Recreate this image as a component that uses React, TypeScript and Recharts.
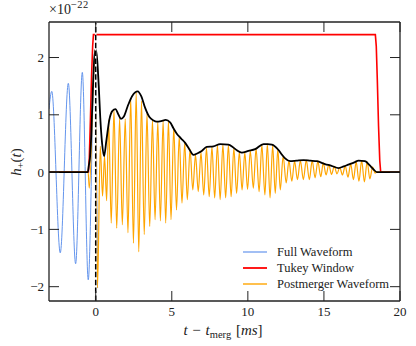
import { LineChart, Line, XAxis, YAxis, Legend, ReferenceLine } from "recharts";

const W = 416;
const H = 346;
const MARGIN = { top: 22, right: 16, left: 0, bottom: 0 };
const Y_AXIS_W = 49;
const X_AXIS_H = 45;
const PLOT_LEFT = MARGIN.left + Y_AXIS_W;
const PLOT_RIGHT = W - MARGIN.right;
const PLOT_TOP = MARGIN.top;
const PLOT_BOTTOM = H - MARGIN.bottom - X_AXIS_H;
const TICK_LEN = 10;
const SERIF = "'Liberation Serif', 'DejaVu Serif', serif";
const INK = "#222";

const X_DOMAIN: [number, number] = [-3.07, 20];
const Y_DOMAIN: [number, number] = [-2.25, 2.62];
const xTicks = [0, 5, 10, 15, 20];
const yTicks = [-2, -1, 0, 1, 2];

// [t - t_merg (ms), h+ (1e-22)]
const fullWaveform: [number, number][] = [
  [-3.07, 1.1], [-2.89, 1.41], [-2.33, -1.41], [-1.8, 1.55], [-1.32, -1.6],
  [-0.88, 1.74], [-0.49, -1.88], [-0.05, 2.13], [0.12, -2.02],
];

const tukeyWindow: [number, number][] = [
  [-3.07, 0], [-0.48, 0], [-0.42, 0.25], [-0.35, 0.9], [-0.27, 1.7], [-0.2, 2.2],
  [-0.15, 2.4], [18.38, 2.4], [18.44, 2.2], [18.51, 1.6], [18.59, 0.8],
  [18.67, 0.2], [18.73, 0], [20, 0],
];

const postmerger: [number, number][] = [
  [-3.07, 0], [-0.5, 0], [-0.42, -0.28], [-0.05, 2.13], [0.12, -2.02],
  [0.3, 0.45], [0.45, -0.42], [0.58, 0.28], [0.72, -0.5], [0.85, 0.91],
  [1.02, -0.89], [1.2, 1.09], [1.38, -0.98], [1.57, 0.94], [1.75, -0.92],
  [1.94, 0.93], [2.12, -1.06], [2.3, 1.29], [2.48, -1.24], [2.66, 1.39],
  [2.83, -1.39], [3.01, 1.24], [3.19, -1.09], [3.37, 1.02], [3.55, -0.95],
  [3.73, 0.91], [3.9, -0.83], [4.08, 0.88], [4.25, -0.85], [4.43, 0.89],
  [4.6, -0.89], [4.78, 0.89], [4.95, -0.83], [5.13, 0.78], [5.31, -0.66],
  [5.49, 0.62], [5.67, -0.54], [5.85, 0.51], [6.02, -0.48], [6.2, 0.4],
  [6.38, -0.31], [6.56, 0.3], [6.74, -0.34], [6.92, 0.34], [7.1, -0.4],
  [7.28, 0.42], [7.46, -0.43], [7.64, 0.44], [7.82, -0.45], [8.0, 0.47],
  [8.18, -0.48], [8.36, 0.48], [8.54, -0.45], [8.72, 0.47], [8.9, -0.43],
  [9.08, 0.42], [9.26, -0.37], [9.44, 0.35], [9.62, -0.31], [9.8, 0.34],
  [9.98, -0.3], [10.16, 0.37], [10.36, -0.28], [10.54, 0.41], [10.74, -0.34],
  [10.92, 0.47], [11.12, -0.4], [11.28, 0.49], [11.46, -0.45], [11.63, 0.47],
  [11.8, -0.37], [11.97, 0.4], [12.13, -0.31], [12.32, 0.28], [12.52, -0.19],
  [12.7, 0.2], [12.89, -0.16], [13.07, 0.19], [13.26, -0.13], [13.45, 0.2],
  [13.65, -0.13], [13.84, 0.21], [14.04, -0.13], [14.23, 0.2], [14.42, -0.1],
  [14.6, 0.19], [14.79, -0.08], [14.96, 0.16], [15.14, -0.05], [15.32, 0.13],
  [15.5, -0.04], [15.68, 0.1], [15.86, -0.03], [16.04, 0.08], [16.22, -0.05],
  [16.4, 0.11], [16.58, -0.09], [16.76, 0.14], [16.94, -0.13], [17.12, 0.18],
  [17.3, -0.16], [17.48, 0.2], [17.66, -0.17], [17.84, 0.18], [18.02, -0.12],
  [18.2, 0.09], [18.36, -0.02], [18.48, 0], [20, 0],
];

const envelope: [number, number][] = [
  [-3.07, 0], [-0.52, 0], [-0.45, 0.12], [-0.37, 0.27], [-0.3, 0.6], [-0.2, 1.35],
  [-0.1, 1.95], [0, 2.15], [0.1, 1.95], [0.2, 1.5], [0.3, 0.95], [0.42, 0.5],
  [0.55, 0.28], [0.7, 0.55], [0.9, 0.92], [1.1, 1.07], [1.3, 1.1], [1.5, 1.0],
  [1.66, 0.93], [1.85, 0.97], [2.1, 1.15], [2.4, 1.33], [2.76, 1.41], [3.0, 1.32],
  [3.25, 1.12], [3.53, 0.96], [3.8, 0.9], [4.0, 0.88], [4.3, 0.89], [4.6, 0.91],
  [4.89, 0.87], [5.1, 0.77], [5.33, 0.67], [5.6, 0.59], [5.88, 0.51], [6.15, 0.4],
  [6.42, 0.3], [6.7, 0.33], [6.97, 0.37], [7.3, 0.44], [7.74, 0.45], [8.18, 0.49],
  [8.72, 0.48], [9.0, 0.44], [9.28, 0.38], [9.6, 0.34], [10.04, 0.37], [10.48, 0.4],
  [11.03, 0.49], [11.3, 0.49], [11.58, 0.48], [12.0, 0.39], [12.25, 0.3],
  [12.45, 0.24], [12.78, 0.19], [13.2, 0.2], [13.66, 0.21], [14.1, 0.2],
  [14.54, 0.19], [15.07, 0.14], [15.5, 0.11], [15.96, 0.07], [16.3, 0.1],
  [16.6, 0.13], [17.0, 0.17], [17.27, 0.2], [17.7, 0.19], [18.0, 0.12],
  [18.25, 0.05], [18.48, 0], [20, 0],
];

const mergerLine: [number, number][] = [[0, Y_DOMAIN[0]], [0, Y_DOMAIN[1]]];

const legendOrder = ["Full Waveform", "Tukey Window", "Postmerger Waveform"];

const toPoints = (arr: [number, number][]) => arr.map(([x, y]) => ({ x, y }));

const fmtTick = (v: number) => (v < 0 ? `\u2212${Math.abs(v)}` : `${v}`);

function XTick({ x, payload }: any) {
  return (
    <g>
      <line x1={x} x2={x} y1={PLOT_BOTTOM} y2={PLOT_BOTTOM - TICK_LEN} stroke={INK} strokeWidth={1} />
      <line x1={x} x2={x} y1={PLOT_TOP} y2={PLOT_TOP + TICK_LEN} stroke={INK} strokeWidth={1} />
      <text x={x} y={PLOT_BOTTOM + 15} textAnchor="middle" fontFamily={SERIF} fontSize={13} fill={INK}>
        {fmtTick(payload.value)}
      </text>
    </g>
  );
}

function YTick({ y, payload }: any) {
  return (
    <g>
      <line x1={PLOT_LEFT} x2={PLOT_LEFT + TICK_LEN} y1={y} y2={y} stroke={INK} strokeWidth={1} />
      <line x1={PLOT_RIGHT - TICK_LEN} x2={PLOT_RIGHT} y1={y} y2={y} stroke={INK} strokeWidth={1} />
      <text x={PLOT_LEFT - 5} y={y + 4.5} textAnchor="end" fontFamily={SERIF} fontSize={13} fill={INK}>
        {fmtTick(payload.value)}
      </text>
    </g>
  );
}

const legendWidths: Record<string, number> = {
  "Full Waveform": 1.2,
  "Tukey Window": 1.8,
  "Postmerger Waveform": 1.4,
};

function LegendBox({ payload }: any) {
  const items = legendOrder
    .map((name) => (payload || []).find((p: any) => p.value === name))
    .filter(Boolean);
  return (
    <div style={{ fontFamily: SERIF, fontSize: 12.5, color: INK }}>
      {items.map((p: any) => (
        <div key={p.value} style={{ display: "flex", alignItems: "center", height: 16, whiteSpace: "nowrap" }}>
          <svg width={34} height={10} style={{ flex: "none" }}>
            <line x1={0} y1={5} x2={24} y2={5} stroke={p.color} strokeWidth={legendWidths[p.value]} />
          </svg>
          <span>{p.value}</span>
        </div>
      ))}
    </div>
  );
}

export default function App() {
  return (
    <div style={{ position: "relative", width: W, height: H, background: "#fff" }}>
      <style>{"body{margin:0}"}</style>
      <LineChart width={W} height={H} margin={MARGIN}>
        <XAxis
          dataKey="x"
          type="number"
          domain={X_DOMAIN}
          allowDataOverflow
          ticks={xTicks}
          height={X_AXIS_H}
          tickSize={0}
          tick={<XTick />}
          axisLine={{ stroke: INK, strokeWidth: 1.3 }}
          tickLine={false}
        />
        <YAxis
          type="number"
          domain={Y_DOMAIN}
          allowDataOverflow
          ticks={yTicks}
          width={Y_AXIS_W}
          tickSize={0}
          tick={<YTick />}
          axisLine={{ stroke: INK, strokeWidth: 1.3 }}
          tickLine={false}
        />
        <ReferenceLine y={Y_DOMAIN[1]} stroke={INK} strokeWidth={1.3} ifOverflow="visible" />
        <ReferenceLine x={X_DOMAIN[1]} stroke={INK} strokeWidth={1.3} ifOverflow="visible" />
        <Line
          data={toPoints(fullWaveform)}
          dataKey="y"
          name="Full Waveform"
          type="monotone"
          stroke="#6495ED"
          strokeWidth={1}
          dot={false}
          activeDot={false}
          isAnimationActive={false}
        />
        <Line
          data={toPoints(tukeyWindow)}
          dataKey="y"
          name="Tukey Window"
          type="linear"
          stroke="#ff0000"
          strokeWidth={1.6}
          dot={false}
          activeDot={false}
          isAnimationActive={false}
        />
        <Line
          data={toPoints(postmerger)}
          dataKey="y"
          name="Postmerger Waveform"
          type="monotone"
          stroke="#FFA500"
          strokeWidth={1.2}
          dot={false}
          activeDot={false}
          isAnimationActive={false}
        />
        <Line
          data={toPoints(envelope)}
          dataKey="y"
          name="envelope"
          type="monotone"
          stroke="#000"
          strokeWidth={1.8}
          dot={false}
          activeDot={false}
          legendType="none"
          isAnimationActive={false}
        />
        <Line
          data={toPoints(mergerLine)}
          dataKey="y"
          name="merger-bg"
          type="linear"
          stroke="#fff"
          strokeWidth={1.6}
          dot={false}
          activeDot={false}
          legendType="none"
          isAnimationActive={false}
        />
        <Line
          data={toPoints(mergerLine)}
          dataKey="y"
          name="merger"
          type="linear"
          stroke="#000"
          strokeWidth={1.5}
          strokeDasharray="5.5 2.4"
          dot={false}
          activeDot={false}
          legendType="none"
          isAnimationActive={false}
        />
        <Legend
          layout="vertical"
          align="center"
          verticalAlign="middle"
          content={<LegendBox />}
          wrapperStyle={{ left: 243, top: 244, width: 160, height: 50 }}
        />
      </LineChart>
      <div style={{ position: "absolute", left: 49, top: 1, fontFamily: SERIF, fontSize: 14, color: INK, lineHeight: "18px" }}>
        ×10<sup style={{ fontSize: 10.5, verticalAlign: "6px", lineHeight: 0, letterSpacing: 0.5 }}>−22</sup>
      </div>
      <div
        style={{
          position: "absolute",
          left: 16 - 40,
          top: 162 - 11,
          width: 80,
          height: 22,
          lineHeight: "22px",
          textAlign: "center",
          transform: "rotate(-90deg)",
          fontFamily: SERIF,
          fontSize: 15,
          color: INK,
        }}
      >
        <i>h</i>
        <sub style={{ fontSize: 10.5, verticalAlign: "-3px", lineHeight: 0 }}>+</sub>(<i>t</i>)
      </div>
      <div
        style={{
          position: "absolute",
          left: 113,
          top: 319,
          width: 220,
          height: 22,
          lineHeight: "22px",
          textAlign: "center",
          fontFamily: SERIF,
          fontSize: 15,
          color: INK,
          wordSpacing: 1,
        }}
      >
        <i>t</i> − <i>t</i>
        <sub style={{ fontSize: 10.5, verticalAlign: "-3px", lineHeight: 0 }}>merg</sub> [<i>ms</i>]
      </div>
    </div>
  );
}
